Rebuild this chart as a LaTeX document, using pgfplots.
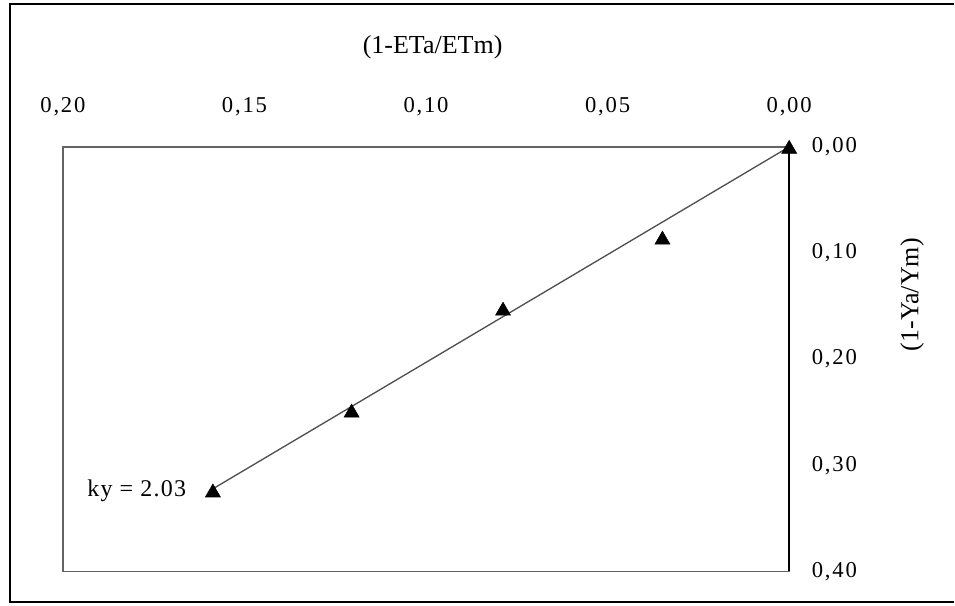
\documentclass[border=0pt]{standalone}
\usepackage{fontspec}
\setmainfont{Liberation Serif}
\usepackage{pgfplots}
\pgfplotsset{compat=1.18}
\definecolor{framegray}{RGB}{100,100,100}
\definecolor{linegray}{RGB}{80,80,80}
\begin{document}
\begin{tikzpicture}
\path (0pt,0pt) rectangle (716.25pt,454.5pt);
\draw[black, line width=1.5pt] (716.25pt,451.3pt) -- (7.3pt,451.3pt) -- (7.3pt,2.25pt) -- (716.25pt,2.25pt);
\begin{axis}[
  at={(47.25pt,25.5pt)}, anchor=south west,
  scale only axis,
  width=545.25pt, height=318.75pt,
  x dir=reverse, y dir=reverse,
  xmin=0, xmax=0.2, ymin=0, ymax=0.4,
  xtick={0,0.05,0.1,0.15,0.2},
  ytick={0,0.1,0.2,0.3,0.4},
  xticklabel pos=right,
  yticklabel pos=right,
  major tick length=0pt,
  axis line style={framegray, line width=1.1pt},
  clip=false,
  /pgf/number format/.cd, fixed, fixed zerofill, precision=2, use comma, assume math mode=true,
  /pgfplots/.cd,
  ticklabel style={font=\fontsize{17}{20}\selectfont\addfontfeature{LetterSpace=8}},
  xticklabel style={anchor=base, yshift=25.5pt},
  yticklabel style={anchor=west, xshift=13.5pt},
  xlabel={(1-ETa/ETm)},
  ylabel={(1-Ya/Ym)},
  xlabel style={font=\fontsize{19.5}{23}\selectfont, at={(axis description cs:0.509,1.2353)}, anchor=center},
  ylabel style={font=\fontsize{19.5}{23}\selectfont, at={(axis description cs:1.1692,0.6518)}, anchor=center},
]
\addplot[linegray, line width=1pt, forget plot] coordinates {(0,0) (0.1587,0.3222)};
\addplot[only marks, mark=triangle*, mark size=6.5pt, mark options={black, yshift=-1.6pt}]
  coordinates {(0,0) (0.0349,0.0856) (0.0788,0.1525) (0.1205,0.2485) (0.1587,0.3238)};
\draw[black, line width=1.1pt] (axis description cs:1,0) -- (axis description cs:1,1);
\node[anchor=east, font=\fontsize{18}{21}\selectfont\addfontfeature{LetterSpace=5}] at (axis cs:0.1648,0.3238) {ky = 2.03};
\end{axis}
\end{tikzpicture}
\end{document}
